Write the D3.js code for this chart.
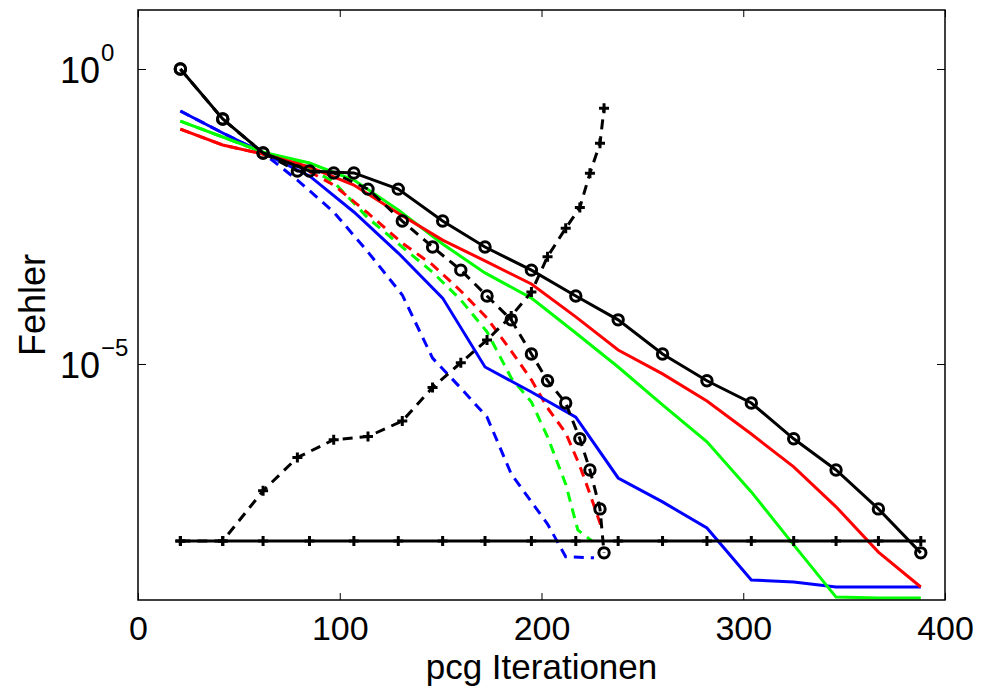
<!DOCTYPE html>
<html>
<head>
<meta charset="utf-8">
<script src="https://cdn.jsdelivr.net/npm/d3@7"></script>
<style>
  body { margin: 0; background: #fff; }
  svg text { font-family: "Liberation Sans", Arial, sans-serif; fill: #000; }
</style>
</head>
<body>
<svg id="chart" width="982" height="686"></svg>
<script>
// iteration counts (x)
const solidIt = [21, 42, 62, 85, 107, 129, 151, 172, 195, 217, 238, 260, 282, 304, 325, 346, 367, 388];
const dashIt = [21, 42, 62, 79, 97, 114, 131, 146, 160, 173, 185, 195, 203, 212, 219, 224, 229, 231];
const blueDashIt = [21, 42, 62, 79, 97, 114, 131, 146, 160, 173, 185, 195, 203, 212, 226];
const greenDashIt = [21, 42, 62, 79, 97, 114, 131, 146, 160, 173, 185, 195, 203, 212, 218, 225];
const redDashIt = [21, 42, 62, 79, 97, 114, 131, 146, 160, 173, 185, 195, 203, 212, 219, 224, 229, 230];

// error values
const refErr = [1, 0.142, 0.0377, 0.0187, 0.0173, 9.2e-3, 2.65e-3, 9.6e-4, 3.9e-4, 1.42e-4, 5.6e-5, 1.48e-5, 5.2e-6, 2.18e-6, 5.4e-7, 1.6e-7, 3.5e-8, 6.3e-9];
const plusErr = [1e-8, 1e-8, 7.1e-8, 2.6e-7, 5.2e-7, 5.9e-7, 1.08e-6, 4.0e-6, 1.05e-5, 2.55e-5, 6.5e-5, 1.66e-4, 6.6e-4, 2.0e-3, 4.5e-3, 0.0171, 0.055, 0.216];
const tolErr = [1e-8, 1e-8, 1e-8, 1e-8, 1e-8, 1e-8, 1e-8, 1e-8, 1e-8, 1e-8, 1e-8, 1e-8, 1e-8, 1e-8, 1e-8, 1e-8, 1e-8, 1e-8];
const redErr = [0.096, 0.0515, 0.0362, 0.0218, 0.0108, 3.6e-3, 1.26e-3, 5.6e-4, 2.27e-4, 6.3e-5, 1.73e-5, 6.8e-6, 2.36e-6, 6.5e-7, 1.8e-7, 3.8e-8, 6.5e-9, 1.66e-9];
const greenErr = [0.131, 0.0704, 0.039, 0.0255, 0.0131, 4.1e-3, 1.08e-3, 3.5e-4, 1.31e-4, 3.35e-5, 8.9e-6, 2.02e-6, 4.8e-7, 6.8e-8, 8.6e-9, 1.12e-9, 1.08e-9, 1.08e-9];
const blueErr = [0.194, 0.0823, 0.0377, 0.0154, 3.77e-3, 7.6e-4, 1.31e-4, 8.9e-6, 3.35e-6, 1.26e-6, 1.17e-7, 4.6e-8, 1.66e-8, 2.18e-9, 2.02e-9, 1.66e-9, 1.66e-9, 1.66e-9];
const blueDashErr = [0.194, 0.0823, 0.0377, 0.0131, 3.77e-3, 7.9e-4, 1.48e-4, 1.26e-5, 3.9e-6, 1.26e-6, 1.37e-7, 4.6e-8, 1.94e-8, 5.4e-9, 5.2e-9];
const greenDashErr = [0.131, 0.0704, 0.039, 0.0265, 0.0122, 2.98e-3, 9.6e-4, 3.6e-4, 1.22e-4, 3.5e-5, 5.8e-6, 2.27e-6, 5.8e-7, 9.2e-8, 1.54e-8, 1.0e-8];
const redDashErr = [0.096, 0.0515, 0.0362, 0.0236, 0.0108, 3.6e-3, 1.12e-3, 4.8e-4, 1.73e-4, 6.0e-5, 1.66e-5, 5.4e-6, 1.8e-6, 6.8e-7, 1.87e-7, 6.3e-8, 2.02e-8, 1.48e-8];

const xTicks = [0, 100, 200, 300, 400];
const yTicks = [1, 1e-5];
const yTickExp = ["0", "\u22125"];

const svg = d3.select("#chart");
const plotLeft = 138, plotRight = 945, plotTop = 10, plotBottom = 600;

const x = d3.scaleLinear().domain([0, 400]).range([plotLeft, plotRight]);
const y = d3.scaleLog().domain([1e-9, 10]).range([plotBottom, plotTop]);

svg.append("defs").append("clipPath").attr("id", "clip")
  .append("rect").attr("x", plotLeft).attr("y", plotTop)
  .attr("width", plotRight - plotLeft).attr("height", plotBottom - plotTop);

// series in drawing order
const series = [
  { xs: blueDashIt, ys: blueDashErr, color: "#0000ff", dash: true },
  { xs: greenDashIt, ys: greenDashErr, color: "#00ff00", dash: true },
  { xs: redDashIt, ys: redDashErr, color: "#ff0000", dash: true },
  { xs: solidIt, ys: blueErr, color: "#0000ff", dash: false },
  { xs: solidIt, ys: greenErr, color: "#00ff00", dash: false },
  { xs: solidIt, ys: redErr, color: "#ff0000", dash: false },
  { xs: dashIt, ys: plusErr, color: "#000", dash: true, marker: "plus" },
  { xs: dashIt, ys: refErr, color: "#000", dash: true, marker: "circle" },
  { xs: solidIt, ys: tolErr, color: "#000", dash: false, marker: "plus" },
  { xs: solidIt, ys: refErr, color: "#000", dash: false, marker: "circle" }
];

const line = d3.line()
  .x(function (d) { return x(d[0]); })
  .y(function (d) { return y(d[1]); });

const plot = svg.append("g").attr("clip-path", "url(#clip)");

series.forEach(function (s) {
  const pts = s.xs.map(function (v, i) { return [v, s.ys[i]]; });
  plot.append("path")
    .datum(pts)
    .attr("d", line)
    .attr("fill", "none")
    .attr("stroke", s.color)
    .attr("stroke-width", 3)
    .attr("stroke-dasharray", s.dash ? "10,7" : null);

  if (s.marker === "circle") {
    plot.append("g").selectAll("circle")
      .data(pts)
      .enter()
      .append("circle")
      .attr("cx", function (d) { return x(d[0]); })
      .attr("cy", function (d) { return y(d[1]); })
      .attr("r", 5.2)
      .attr("fill", "none")
      .attr("stroke", "#000")
      .attr("stroke-width", 3);
  } else if (s.marker === "plus") {
    plot.append("g").selectAll("path")
      .data(pts)
      .enter()
      .append("path")
      .attr("d", function (d) {
        const cx = x(d[0]), cy = y(d[1]);
        return "M" + (cx - 5) + "," + cy + "H" + (cx + 5) + "M" + cx + "," + (cy - 5) + "V" + (cy + 5);
      })
      .attr("stroke", "#000")
      .attr("stroke-width", 3);
  }
});

// axes with inward ticks
const xAxisB = svg.append("g")
  .attr("transform", "translate(0," + plotBottom + ")")
  .call(d3.axisBottom(x).tickValues(xTicks).tickSizeInner(-7).tickSizeOuter(0).tickPadding(16));
xAxisB.selectAll("text")
  .style("font-size", "34px")
  .attr("dy", "0.71em");

svg.append("g")
  .attr("transform", "translate(0," + plotTop + ")")
  .call(d3.axisTop(x).tickValues(xTicks).tickSizeInner(-7).tickSizeOuter(0).tickFormat(""));

const yAxisL = svg.append("g")
  .attr("transform", "translate(" + plotLeft + ",0)")
  .call(d3.axisLeft(y).tickValues(yTicks).tickSizeInner(-8).tickSizeOuter(0).tickFormat(""));

svg.append("g")
  .attr("transform", "translate(" + plotRight + ",0)")
  .call(d3.axisRight(y).tickValues(yTicks).tickSizeInner(-8).tickSizeOuter(0).tickFormat(""));

svg.selectAll(".domain").remove();
svg.selectAll(".tick line").attr("stroke", "#000").attr("stroke-width", 1);

// log tick labels as 10 with exponent
yAxisL.selectAll(".tick").each(function (d, i) {
  const t = d3.select(this);
  t.append("text")
    .attr("x", -38)
    .attr("y", 13)
    .attr("text-anchor", "end")
    .style("font-size", "36px")
    .text("10");
  t.append("text")
    .attr("x", -37)
    .attr("y", -9)
    .attr("text-anchor", "start")
    .style("font-size", "24px")
    .text(yTickExp[i]);
});

// frame
svg.append("rect")
  .attr("x", plotLeft)
  .attr("y", plotTop)
  .attr("width", plotRight - plotLeft)
  .attr("height", plotBottom - plotTop)
  .attr("fill", "none")
  .attr("stroke", "#000")
  .attr("stroke-width", 1.5);

svg.append("text")
  .attr("x", (plotLeft + plotRight) / 2)
  .attr("y", 679)
  .attr("text-anchor", "middle")
  .style("font-size", "35px")
  .text("pcg Iterationen");

svg.append("text")
  .attr("transform", "translate(45,305) rotate(-90)")
  .attr("text-anchor", "middle")
  .style("font-size", "36px")
  .text("Fehler");
</script>
</body>
</html>
